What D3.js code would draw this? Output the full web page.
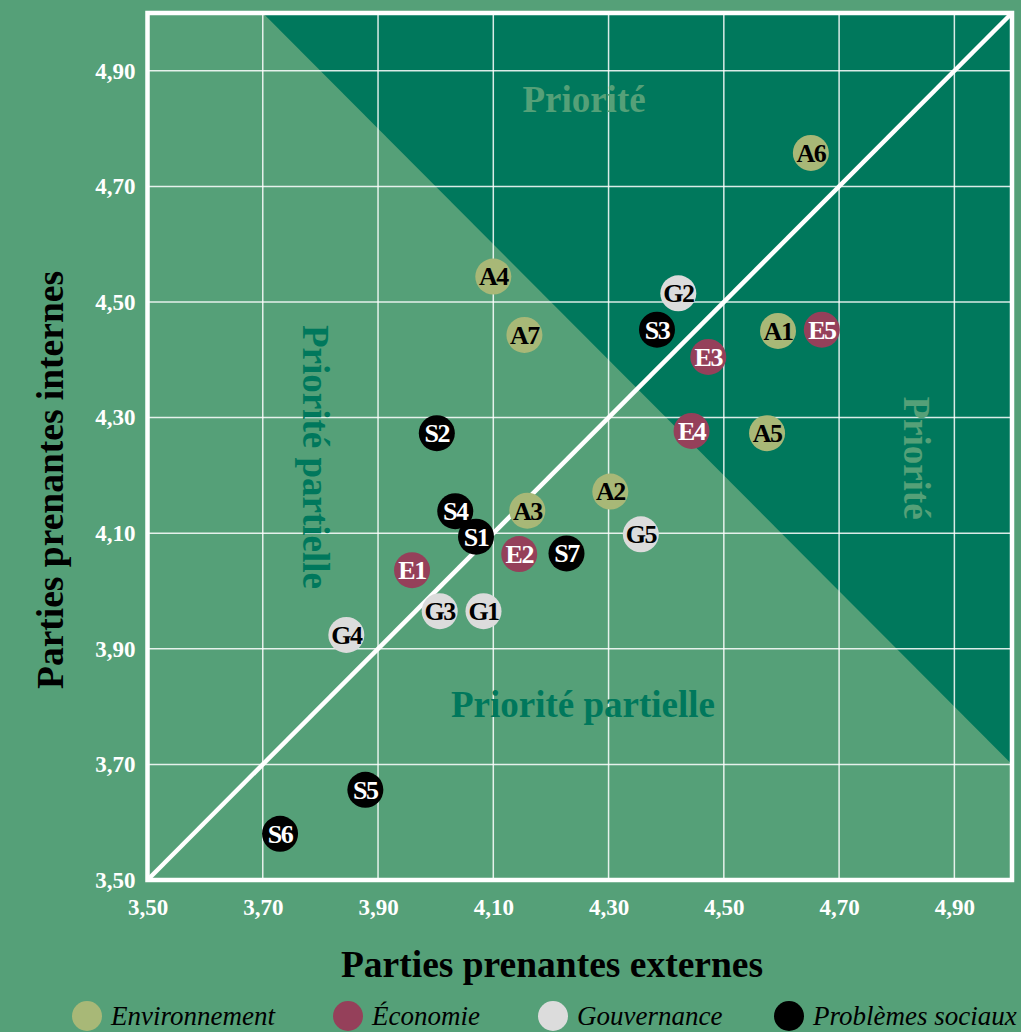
<!DOCTYPE html>
<html><head><meta charset="utf-8">
<script src="https://cdn.jsdelivr.net/npm/d3@7"></script>
<style>html,body{margin:0;padding:0;background:#55A078;}svg{display:block;}</style>
</head><body>
<svg id="chart" width="1021" height="1032"></svg>
<script>
const labels = ["A1","A2","A3","A4","A5","A6","A7","E1","E2","E3","E4","E5","G1","G2","G3","G4","G5","S1","S2","S3","S4","S5","S6","S7"];
const externes = [4.594,4.303,4.159,4.100,4.575,4.651,4.154,3.959,4.145,4.473,4.444,4.670,4.083,4.421,4.007,3.845,4.356,4.070,4.002,4.384,4.034,3.878,3.730,4.227];
const internes = [4.450,4.172,4.139,4.544,4.273,4.758,4.443,4.036,4.064,4.405,4.277,4.452,3.965,4.515,3.965,3.924,4.098,4.094,4.273,4.452,4.138,3.656,3.580,4.065];
const categories = ["Environnement","Économie","Gouvernance","Problèmes sociaux"];
const catPrefix = ["A","E","G","S"];
const catColors = ["#A8B877","#95405A","#DCDCDC","#000000"];
const catText = ["#000000","#FFFFFF","#000000","#FFFFFF"];
const tickValues = [3.5,3.7,3.9,4.1,4.3,4.5,4.7,4.9];

const svg = d3.select("#chart");
const W = 1021, H = 1032;
const serif = "'Liberation Serif','DejaVu Serif',serif";
svg.append("rect").attr("width",W).attr("height",H).attr("fill","#55A078");

const x = d3.scaleLinear().domain([3.5,5.0]).range([147.5,1012]);
const y = d3.scaleLinear().domain([3.5,5.0]).range([880,13]);

// dark "Priorité" region above x + y = 8.7
const poly = [[3.7,5.0],[5.0,5.0],[5.0,3.7]];
svg.append("polygon")
  .attr("points", poly.map(p => [x(p[0]), y(p[1])].join(",")).join(" "))
  .attr("fill","#00785C");

// grid
const g = svg.append("g");
g.selectAll("line.vx").data(tickValues.slice(1)).join("line")
  .attr("x1",d=>x(d)).attr("x2",d=>x(d)).attr("y1",y(5.0)).attr("y2",y(3.5))
  .attr("stroke","#FFFFFF").attr("stroke-opacity",0.85).attr("stroke-width",1.5);
g.selectAll("line.hy").data(tickValues.slice(1)).join("line")
  .attr("y1",d=>y(d)).attr("y2",d=>y(d)).attr("x1",x(3.5)).attr("x2",x(5.0))
  .attr("stroke","#FFFFFF").attr("stroke-opacity",0.85).attr("stroke-width",1.5);

// region labels
const rl = 37;
svg.append("text").attr("x",584).attr("y",112).attr("text-anchor","middle")
  .attr("font-family",serif).attr("font-weight","bold").attr("font-size",rl)
  .attr("fill","#55A078").text("Priorité");
svg.append("text").attr("transform","translate(904,458) rotate(90)").attr("text-anchor","middle")
  .attr("font-family",serif).attr("font-weight","bold").attr("font-size",rl)
  .attr("fill","#55A078").text("Priorité");
svg.append("text").attr("x",583).attr("y",717).attr("text-anchor","middle")
  .attr("font-family",serif).attr("font-weight","bold").attr("font-size",rl)
  .attr("fill","#00785C").text("Priorité partielle");
svg.append("text").attr("transform","translate(303,457) rotate(90)").attr("text-anchor","middle")
  .attr("font-family",serif).attr("font-weight","bold").attr("font-size",rl)
  .attr("fill","#00785C").text("Priorité partielle");

// diagonal
svg.append("line").attr("x1",x(3.5)).attr("y1",y(3.5)).attr("x2",x(5.0)).attr("y2",y(5.0))
  .attr("stroke","#FFFFFF").attr("stroke-width",4.5);

// frame
svg.append("rect").attr("x",x(3.5)).attr("y",y(5.0)).attr("width",x(5.0)-x(3.5)).attr("height",y(3.5)-y(5.0))
  .attr("fill","none").attr("stroke","#FFFFFF").attr("stroke-width",4.5);

// axes
const fmt = d => d.toFixed(2).replace(".",",");
const xAxis = svg.append("g").attr("transform",`translate(0,${y(3.5)})`)
  .call(d3.axisBottom(x).tickValues(tickValues).tickFormat(fmt).tickSize(0).tickPadding(19));
const yAxis = svg.append("g").attr("transform",`translate(${x(3.5)},0)`)
  .call(d3.axisLeft(y).tickValues(tickValues).tickFormat(fmt).tickSize(0).tickPadding(12));
[xAxis,yAxis].forEach(a=>{
  a.select(".domain").remove();
  a.selectAll("text").attr("font-family",serif).attr("font-weight","bold").attr("font-size",23).attr("fill","#FFFFFF");
});

// points
const pts = labels.map((l,i)=>({label:l, ex:externes[i], in:internes[i], c:catPrefix.indexOf(l[0])}));
const pg = svg.append("g").selectAll("g").data(pts).join("g")
  .attr("transform",d=>`translate(${x(d.ex)},${y(d.in)})`);
pg.append("circle").attr("r",18).attr("fill",d=>catColors[d.c]);
pg.append("text").attr("text-anchor","middle").attr("dy","0.34em")
  .attr("font-family",serif).attr("font-weight","bold").attr("font-size",26)
  .attr("letter-spacing",-1.5)
  .attr("fill",d=>catText[d.c]).text(d=>d.label);

// axis titles
svg.append("text").attr("x",552).attr("y",977).attr("text-anchor","middle")
  .attr("font-family",serif).attr("font-weight","bold").attr("font-size",37.5).attr("fill","#000")
  .text("Parties prenantes externes");
svg.append("text").attr("transform","translate(63,480) rotate(-90)").attr("text-anchor","middle")
  .attr("font-family",serif).attr("font-weight","bold").attr("font-size",37.5).attr("fill","#000")
  .text("Parties prenantes internes");

// legend
const legX = [87,348,553,789];
const lg = svg.append("g").selectAll("g").data(categories).join("g")
  .attr("transform",(d,i)=>`translate(${legX[i]},1016)`);
lg.append("circle").attr("r",15).attr("fill",(d,i)=>catColors[i]);
lg.append("text").attr("x",24).attr("dy","0.33em")
  .attr("font-family",serif).attr("font-style","italic").attr("font-size",27).attr("fill","#000")
  .text(d=>d);
</script>
</body></html>
